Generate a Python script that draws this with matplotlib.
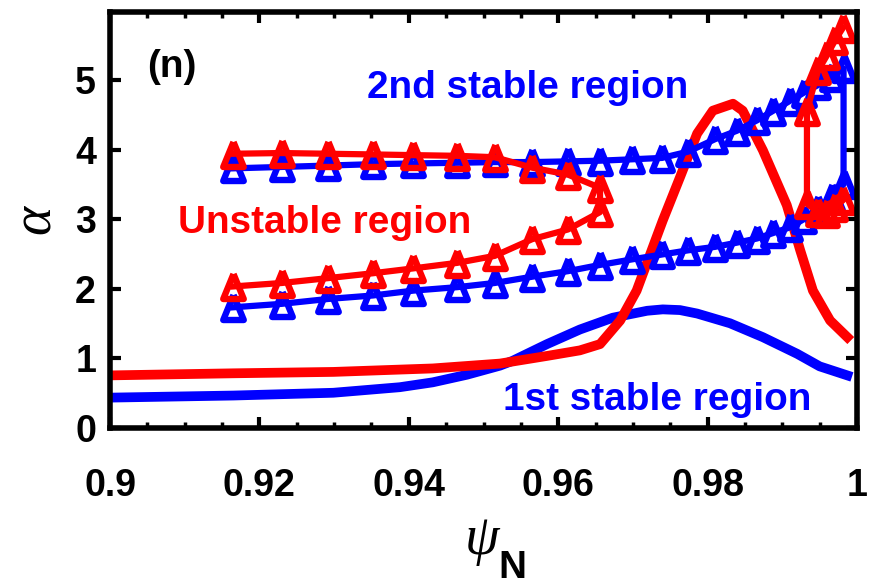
import matplotlib
matplotlib.use("Agg")
import matplotlib.pyplot as plt
from matplotlib import font_manager as fm
from matplotlib.ticker import MultipleLocator

# ---------------- data ----------------
# psi_N grid of the ballooning-stability scan (triangle series)
psi_tri = [0.9165, 0.9230, 0.9292, 0.9352, 0.9406, 0.9465, 0.9515, 0.9565,
           0.9613, 0.9656, 0.9699, 0.9739, 0.9774, 0.9810, 0.9839, 0.9866,
           0.9888, 0.9910, 0.9929, 0.9948, 0.9966, 0.9982]
# boundaries of the 2nd stable region (blue triangles)
blue_upper = [3.73, 3.75, 3.77, 3.79, 3.80, 3.81, 3.82, 3.82, 3.83, 3.84, 3.86,
              3.88, 3.97, 4.15, 4.27, 4.42, 4.56, 4.70, 4.82, 4.93, 5.05, 5.17]
blue_lower = [1.73, 1.78, 1.85, 1.90, 1.97, 2.02, 2.08, 2.17, 2.25, 2.34, 2.42,
              2.49, 2.55, 2.60, 2.66, 2.72, 2.80, 2.88, 3.00, 3.15, 3.32, 3.50]
# unstable-region boundaries, inner part (red triangles)
red_upper = [3.94, 3.95, 3.94, 3.93, 3.92, 3.91, 3.89, 3.74, 3.64, 3.45]
red_lower = [2.03, 2.08, 2.15, 2.22, 2.29, 2.37, 2.47, 2.71, 2.85, 3.10]
# unstable-region boundaries near the separatrix (red triangles)
psi_red_edge = [0.9933, 0.9948, 0.9960, 0.9971, 0.9981]
red_edge_upper = [4.56, 5.14, 5.36, 5.58, 5.75]
red_edge_lower = [3.22, 3.10, 3.08, 3.17, 3.27]

# 1st stable boundary (blue curve) and experimental alpha (red curve)
psi_blue_line = [0.900, 0.9165, 0.9299, 0.9388, 0.9432, 0.9478, 0.9522, 0.9539,
                 0.9585, 0.9629, 0.9673, 0.9719, 0.9740, 0.9763, 0.9786, 0.9830,
                 0.9874, 0.9920, 0.9950, 0.9987]
alpha_blue_line = [0.43, 0.46, 0.50, 0.58, 0.65, 0.76, 0.89, 0.96, 1.20, 1.41,
                   1.58, 1.68, 1.70, 1.69, 1.64, 1.50, 1.30, 1.06, 0.88, 0.75]
psi_red_line = [0.900, 0.9165, 0.9299, 0.9432, 0.9522, 0.9585, 0.9629, 0.9656,
                0.9683, 0.9705, 0.9740, 0.9763, 0.9786, 0.9807, 0.9834, 0.9847,
                0.9874, 0.9906, 0.9924, 0.9941, 0.9964, 0.9987]
alpha_red_line = [0.75, 0.78, 0.80, 0.85, 0.92, 1.03, 1.11, 1.20, 1.54, 1.97,
                  2.98, 3.60, 4.23, 4.56, 4.66, 4.56, 3.99, 3.20, 2.55, 1.97,
                  1.54, 1.30]

x_ticks = [0.9, 0.92, 0.94, 0.96, 0.98, 1.0]
x_tick_labels = ["0.9", "0.92", "0.94", "0.96", "0.98", "1"]
y_ticks = [0, 1, 2, 3, 4, 5]
y_tick_labels = ["0", "1", "2", "3", "4", "5"]

# ---------------- style ----------------
BLUE = "#0000ff"
RED = "#ff0000"
available = {f.name for f in fm.fontManager.ttflist}
if "Liberation Sans Narrow" in available:
    SANS, scale = "Liberation Sans Narrow", 1.0
else:
    SANS, scale = "Liberation Sans", 0.82
SERIF = "Liberation Serif"
FS_TEXT = 34 * scale
FS_TICK = 33 * scale

W, H = 884, 585
fig = plt.figure(figsize=(W / 100, H / 100), dpi=100)
ax = fig.add_axes([110 / W, (H - 427.5) / H, 747 / W, 415.5 / H])


def fx(px):
    return px / W


def fy(py):
    return 1 - py / H


tri = [(0, 1.0), (-0.82, -1.0), (0.82, -1.0), (0, 1.0)]
mk = dict(marker=tri, markersize=18, markerfacecolor="none",
          markeredgewidth=4.6, linewidth=4.5)

# smooth boundary curves
ax.plot(psi_blue_line, alpha_blue_line, color=BLUE, linewidth=7,
        solid_joinstyle="round")
ax.plot(psi_red_line, alpha_red_line, color=RED, linewidth=7,
        solid_joinstyle="round")

# 2nd stable region: upper branch, then lower branch back to the left
ax.plot(psi_tri + psi_tri[::-1], blue_upper + blue_lower[::-1],
        color=BLUE, markeredgecolor=BLUE, **mk)

# unstable region, inner loop
n = len(red_upper)
ax.plot(psi_tri[:n] + psi_tri[:n][::-1], red_upper + red_lower[::-1],
        color=RED, markeredgecolor=RED, **mk)
# unstable region near the edge
ax.plot(psi_red_edge[::-1] + psi_red_edge, red_edge_lower[::-1] + red_edge_upper,
        color=RED, markeredgecolor=RED, **mk)

ax.set_xlim(0.9, 1.0)
ax.set_ylim(0, 5.98)
ax.set_xticks(x_ticks)
ax.set_xticklabels(x_tick_labels)
ax.set_yticks(y_ticks)
ax.set_yticklabels(y_tick_labels)
ax.xaxis.set_minor_locator(MultipleLocator(0.005))

for s in ax.spines.values():
    s.set_linewidth(4)
ax.tick_params(which="both", direction="in", top=True, right=True,
               colors="black")
ax.tick_params(which="major", length=8, width=3, labelsize=FS_TICK)
ax.tick_params(which="minor", length=4.5, width=2.5)
ax.tick_params(axis="x", which="major", pad=29)
ax.tick_params(axis="y", which="major", pad=10)
for lab in ax.get_xticklabels() + ax.get_yticklabels():
    lab.set_fontfamily(SANS)
    lab.set_fontweight("bold")

# annotations
fig.text(fx(172), fy(67), "(n)", ha="center", va="center", color="black",
         fontsize=FS_TEXT, fontweight="bold", family=SANS)
fig.text(fx(367), fy(98), "2nd stable region", ha="left", va="baseline",
         color=BLUE, fontsize=FS_TEXT, fontweight="bold", family=SANS)
fig.text(fx(178), fy(233), "Unstable region", ha="left", va="baseline",
         color=RED, fontsize=FS_TEXT, fontweight="bold", family=SANS)
fig.text(fx(503), fy(410), "1st stable region", ha="left", va="baseline",
         color=BLUE, fontsize=FS_TEXT, fontweight="bold", family=SANS)

# axis labels
fig.text(fx(482), fy(540), "\u03c8", ha="center", va="center",
         fontsize=40, style="italic", family=SERIF)
fig.text(fx(498), fy(578), "N", ha="left", va="baseline",
         fontsize=FS_TEXT, fontweight="bold", family=SANS)
fig.text(fx(36), fy(219), "\u03b1", ha="center", va="center", rotation=90,
         fontsize=40, style="italic", family=SERIF)

fig.savefig("out.png", dpi=100, facecolor="white")
